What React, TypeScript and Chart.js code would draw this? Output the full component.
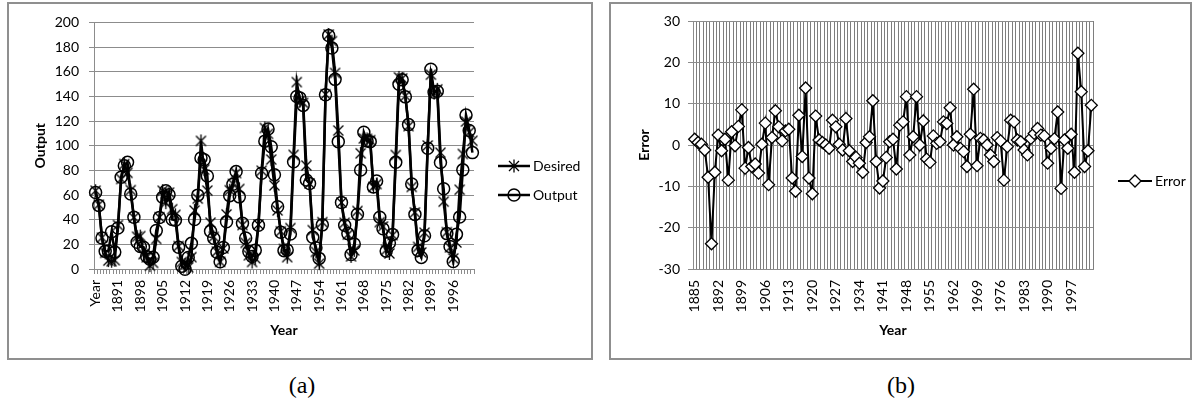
import React, { useEffect, useRef } from 'react';
import { Chart, registerables } from 'chart.js';

Chart.register(...registerables);

// Years of the error chart's category axis
const errorYears = [
  1885, 1886, 1887, 1888, 1889, 1890, 1891, 1892, 1893, 1894,
  1895, 1896, 1897, 1898, 1899, 1900, 1901, 1902, 1903, 1904,
  1905, 1906, 1907, 1908, 1909, 1910, 1911, 1912, 1913, 1914,
  1915, 1916, 1917, 1918, 1919, 1920, 1921, 1922, 1923, 1924,
  1925, 1926, 1927, 1928, 1929, 1930, 1931, 1932, 1933, 1934,
  1935, 1936, 1937, 1938, 1939, 1940, 1941, 1942, 1943, 1944,
  1945, 1946, 1947, 1948, 1949, 1950, 1951, 1952, 1953, 1954,
  1955, 1956, 1957, 1958, 1959, 1960, 1961, 1962, 1963, 1964,
  1965, 1966, 1967, 1968, 1969, 1970, 1971, 1972, 1973, 1974,
  1975, 1976, 1977, 1978, 1979, 1980, 1981, 1982, 1983, 1984,
  1985, 1986, 1987, 1988, 1989, 1990, 1991, 1992, 1993, 1994,
  1995, 1996, 1997, 1998, 1999, 2000, 2001, 2002, 2003,
];

// Left chart categories: header cell "Year" followed by 1885..2002
const outputCategories = ['Year', ...errorYears.slice(0, 118).map(String)];

const desired = [
  63.5, 52.2, 25.4, 13.1, 6.8, 6.3, 7.1, 35.6, 73.0, 85.1,
  78.0, 64.0, 41.8, 26.2, 26.7, 12.1, 9.5, 2.7, 5.0, 24.4,
  42.0, 63.5, 53.8, 62.0, 48.5, 43.9, 18.6, 5.7, 3.6, 1.4,
  9.6, 47.4, 57.1, 103.9, 80.6, 63.6, 37.6, 26.1, 14.2, 5.8,
  16.7, 44.3, 63.9, 69.0, 77.8, 64.9, 35.7, 21.2, 11.1, 5.7,
  8.7, 36.1, 79.7, 114.4, 109.6, 88.8, 67.8, 47.5, 30.6, 16.3,
  9.6, 33.2, 92.6, 151.6, 136.3, 134.7, 83.9, 69.4, 31.5, 13.9,
  4.4, 38.0, 141.7, 190.2, 184.8, 159.0, 112.3, 53.9, 37.5, 27.9,
  10.2, 15.1, 47.0, 93.8, 105.9, 105.5, 104.5, 66.6, 68.9, 38.0,
  34.5, 15.5, 12.6, 27.5, 92.5, 155.4, 154.6, 140.4, 115.9, 66.6,
  45.9, 17.9, 13.4, 29.4, 100.2, 157.6, 142.6, 145.7, 94.3, 54.6,
  29.9, 17.5, 8.6, 21.5, 64.3, 93.3, 119.6, 111.0, 104.0,
];

const output = [
  62.1, 51.6, 25.2, 14.3, 14.6, 30.2, 13.7, 33.2, 74.4, 83.7,
  86.5, 60.8, 42.0, 21.7, 18.2, 17.7, 10.1, 7.9, 9.6, 31.2,
  41.8, 58.2, 63.4, 60.2, 40.2, 39.5, 17.6, 2.3, -0.2, 9.4,
  20.8, 40.2, 59.9, 90.1, 88.6, 75.4, 30.6, 24.9, 13.6, 5.8,
  17.5, 38.3, 59.5, 68.8, 79.0, 58.5, 37.1, 25.2, 14.1, 10.1,
  15.3, 35.5, 77.7, 103.7, 113.6, 99.2, 76.5, 50.5, 29.8, 14.9,
  15.4, 28.4, 87.0, 139.9, 138.7, 132.7, 72.2, 69.4, 25.7, 17.3,
  8.6, 35.8, 141.3, 189.4, 179.2, 153.8, 103.3, 53.9, 35.5, 28.7,
  11.8, 20.3, 44.4, 80.3, 110.9, 103.9, 103.3, 66.6, 71.3, 42.0,
  32.7, 14.5, 21.1, 27.9, 86.5, 149.8, 153.4, 139.6, 117.1, 69.0,
  44.3, 15.1, 9.4, 27.0, 98.0, 162.0, 143.4, 144.2, 86.3, 65.1,
  28.7, 18.3, 6.0, 28.1, 42.1, 80.4, 124.8, 112.4, 94.4,
];

const errors = [
  1.4, 0.6, 0.2, -1.2, -7.8, -23.9, -6.6, 2.4, -1.4, 1.4,
  -8.5, 3.2, -0.2, 4.5, 8.5, -5.6, -0.6, -5.2, -4.6, -6.8,
  0.2, 5.3, -9.6, 1.8, 8.3, 4.4, 1.0, 3.4, 3.8, -8.0,
  -11.2, 7.2, -2.8, 13.8, -8.0, -11.8, 7.0, 1.2, 0.6, 0.0,
  -0.8, 6.0, 4.4, 0.2, -1.2, 6.4, -1.4, -4.0, -3.0, -4.4,
  -6.6, 0.6, 2.0, 10.7, -4.0, -10.4, -8.7, -3.0, 0.8, 1.4,
  -5.8, 4.8, 5.6, 11.7, -2.4, 2.0, 11.7, 0.0, 5.8, -3.4,
  -4.2, 2.2, 0.4, 0.8, 5.6, 5.2, 9.0, 0.0, 2.0, -0.8,
  -1.6, -5.2, 2.6, 13.5, -5.0, 1.6, 1.2, 0.0, -2.4, -4.0,
  1.8, 1.0, -8.5, -0.4, 6.0, 5.6, 1.2, 0.8, -1.2, -2.4,
  1.6, 2.8, 4.0, 2.4, 2.2, -4.4, -0.8, 1.5, 8.0, -10.5,
  1.2, -0.8, 2.6, -6.6, 22.2, 12.9, -5.2, -1.4, 9.6,
];

const outputTicks = { min: 0, max: 200, step: 20 };
const errorTicks = { min: -30, max: 30, step: 10 };

const GRID = '#8c8c8c';
const VGRID = '#7e7e7e';
const TEXT = '#000000';
const FONT = 'Lato, "Open Sans", sans-serif';

function drawStar(g: CanvasRenderingContext2D, x: number, y: number) {
  g.save();
  g.strokeStyle = '#000';
  g.lineWidth = 1.3;
  g.beginPath();
  g.moveTo(x - 5, y - 5);
  g.lineTo(x + 5, y + 5);
  g.moveTo(x + 5, y - 5);
  g.lineTo(x - 5, y + 5);
  g.moveTo(x, y - 6.5);
  g.lineTo(x, y + 6.5);
  g.stroke();
  g.restore();
}

function drawCircle(g: CanvasRenderingContext2D, x: number, y: number) {
  g.save();
  g.strokeStyle = '#000';
  g.lineWidth = 1.5;
  g.beginPath();
  g.arc(x, y, 6, 0, Math.PI * 2);
  g.stroke();
  g.restore();
}

function drawDiamond(g: CanvasRenderingContext2D, x: number, y: number) {
  g.save();
  g.strokeStyle = '#000';
  g.fillStyle = '#fff';
  g.lineWidth = 1.3;
  g.beginPath();
  g.moveTo(x, y - 6);
  g.lineTo(x + 6, y);
  g.lineTo(x, y + 6);
  g.lineTo(x - 6, y);
  g.closePath();
  g.fill();
  g.stroke();
  g.restore();
}

function makeStarCanvas() {
  const c = document.createElement('canvas');
  c.width = 15;
  c.height = 15;
  const g = c.getContext('2d')!;
  drawStar(g, 7.5, 7.5);
  return c;
}

type LegendItem = { text: string; y: number; marker: (g: CanvasRenderingContext2D, x: number, y: number) => void };

function legendPlugin(x1: number, x2: number, lineWidth: number, items: LegendItem[]) {
  return {
    id: 'excelLegend',
    afterDraw(chart: any) {
      const g: CanvasRenderingContext2D = chart.ctx;
      g.save();
      items.forEach((it) => {
        g.strokeStyle = '#000';
        g.lineWidth = lineWidth;
        g.beginPath();
        g.moveTo(x1, it.y);
        g.lineTo(x2, it.y);
        g.stroke();
        it.marker(g, (x1 + x2) / 2, it.y);
        g.fillStyle = TEXT;
        g.font = `14px ${FONT}`;
        g.textAlign = 'left';
        g.textBaseline = 'middle';
        g.fillText(it.text, x2 + 3, it.y);
      });
      g.restore();
    },
  };
}

function OutputChart() {
  const ref = useRef<HTMLCanvasElement>(null);
  useEffect(() => {
    const star = makeStarCanvas();
    const chart = new Chart(ref.current!, {
      type: 'line',
      data: {
        labels: outputCategories,
        datasets: [
          {
            label: 'Desired',
            data: desired,
            borderColor: '#000',
            borderWidth: 2.5,
            tension: 0,
            pointStyle: star as any,
            pointRadius: 6,
            pointHoverRadius: 6,
            clip: false as any,
          },
          {
            label: 'Output',
            data: output,
            borderColor: '#000',
            borderWidth: 2.5,
            tension: 0,
            pointStyle: 'circle',
            pointRadius: 6,
            pointHoverRadius: 6,
            pointBorderWidth: 1.5,
            pointBorderColor: '#000',
            pointBackgroundColor: 'rgba(0,0,0,0)',
            clip: false as any,
          },
        ],
      },
      options: {
        responsive: false,
        animation: false,
        devicePixelRatio: 1,
        events: [],
        layout: { padding: { left: 0, right: 117, top: 17, bottom: 0 } },
        plugins: { legend: { display: false }, tooltip: { enabled: false } },
        scales: {
          x: {
            type: 'category',
            offset: true,
            grid: { display: true, drawOnChartArea: false, drawTicks: true, tickLength: 5, offset: true, color: GRID },
            border: { display: true, color: GRID },
            ticks: {
              autoSkip: false,
              maxRotation: 90,
              minRotation: 90,
              padding: 6,
              color: TEXT,
              font: { family: FONT, size: 14 },
              callback: (_v: any, i: number) => (i % 7 === 0 ? outputCategories[i] : ''),
            },
            title: {
              display: true,
              text: 'Year',
              color: TEXT,
              font: { family: FONT, size: 14, weight: 'bold' },
              padding: { top: 0, bottom: 19.6 },
            },
            afterFit: (s: any) => {
              s.height = 89;
            },
          },
          y: {
            min: outputTicks.min,
            max: outputTicks.max,
            ticks: { stepSize: outputTicks.step, padding: 10, color: TEXT, font: { family: FONT, size: 14 } },
            grid: { color: GRID, drawTicks: true, tickLength: 5 },
            border: { display: true, color: GRID },
            title: {
              display: true,
              text: 'Output',
              color: TEXT,
              font: { family: FONT, size: 14, weight: 'bold' },
              padding: { top: 22.6, bottom: 0 },
            },
            afterFit: (s: any) => {
              s.width = 85;
            },
          },
        },
      } as any,
      plugins: [
        legendPlugin(489, 521, 2.5, [
          { text: 'Desired', y: 162, marker: drawStar },
          { text: 'Output', y: 191, marker: drawCircle },
        ]) as any,
      ],
    });
    document.fonts && document.fonts.ready.then(() => chart.update());
    return () => chart.destroy();
  }, []);
  return <canvas ref={ref} width={582} height={354} style={{ position: 'absolute', left: 0, top: 0 }} />;
}

function ErrorChart() {
  const ref = useRef<HTMLCanvasElement>(null);
  useEffect(() => {
    const chart = new Chart(ref.current!, {
      type: 'line',
      data: {
        labels: errorYears.map(String),
        datasets: [
          {
            label: 'Error',
            data: errors,
            borderColor: '#000',
            borderWidth: 2,
            tension: 0,
            pointStyle: 'rectRot',
            pointRadius: 6,
            pointHoverRadius: 6,
            pointBorderWidth: 1.3,
            pointBorderColor: '#000',
            pointBackgroundColor: '#fff',
            clip: false as any,
          },
        ],
      },
      options: {
        responsive: false,
        animation: false,
        devicePixelRatio: 1,
        events: [],
        layout: { padding: { left: 0, right: 97, top: 17, bottom: 0 } },
        plugins: { legend: { display: false }, tooltip: { enabled: false } },
        scales: {
          x: {
            type: 'category',
            offset: true,
            grid: { display: true, drawOnChartArea: true, drawTicks: false, offset: true, color: VGRID },
            border: { display: true, color: GRID },
            ticks: {
              autoSkip: false,
              maxRotation: 90,
              minRotation: 90,
              padding: 11,
              color: TEXT,
              font: { family: FONT, size: 14 },
              callback: (_v: any, i: number) => (i % 7 === 0 ? String(errorYears[i]) : ''),
            },
            title: {
              display: true,
              text: 'Year',
              color: TEXT,
              font: { family: FONT, size: 14, weight: 'bold' },
              padding: { top: 0, bottom: 19.6 },
            },
            afterFit: (s: any) => {
              s.height = 89;
            },
          },
          y: {
            min: errorTicks.min,
            max: errorTicks.max,
            ticks: { stepSize: errorTicks.step, padding: 8, color: TEXT, font: { family: FONT, size: 14 } },
            grid: { color: GRID, drawTicks: true, tickLength: 5 },
            border: { display: true, color: GRID },
            title: {
              display: true,
              text: 'Error',
              color: TEXT,
              font: { family: FONT, size: 14, weight: 'bold' },
              padding: { top: 24.6, bottom: 0 },
            },
            afterFit: (s: any) => {
              s.width = 82;
            },
          },
        },
      } as any,
      plugins: [legendPlugin(507, 541, 2, [{ text: 'Error', y: 177, marker: drawDiamond }]) as any],
    });
    document.fonts && document.fonts.ready.then(() => chart.update());
    return () => chart.destroy();
  }, []);
  return <canvas ref={ref} width={579} height={354} style={{ position: 'absolute', left: 0, top: 0 }} />;
}

const boxStyle = (left: number, width: number): React.CSSProperties => ({
  position: 'absolute',
  left,
  top: 2,
  width,
  height: 358,
  border: '2px solid #8f8f8f',
  boxSizing: 'border-box',
  background: '#fff',
});

const captionStyle = (cx: number): React.CSSProperties => ({
  position: 'absolute',
  left: cx - 50,
  width: 100,
  top: 371,
  textAlign: 'center',
  font: '24px "Liberation Serif", "DejaVu Serif", serif',
  lineHeight: '28px',
  color: '#000',
});

export default function App() {
  return (
    <div style={{ position: 'fixed', left: 0, top: 0, width: 1202, height: 407, background: '#fff', overflow: 'hidden' }}>
      <div style={boxStyle(7, 586)}>
        <OutputChart />
      </div>
      <div style={boxStyle(609, 583)}>
        <ErrorChart />
      </div>
      <div style={captionStyle(302)}>(a)</div>
      <div style={captionStyle(901)}>(b)</div>
    </div>
  );
}
